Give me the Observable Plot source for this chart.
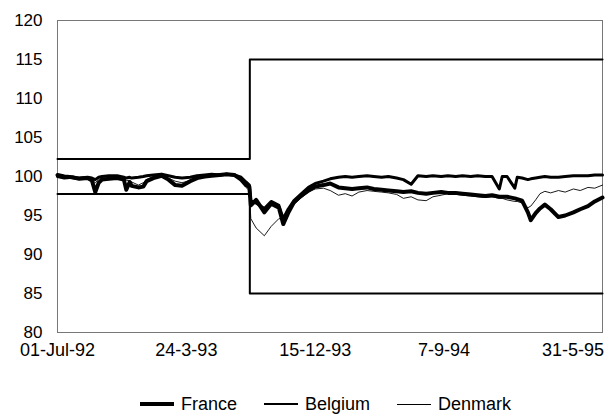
<!DOCTYPE html>
<html><head><meta charset="utf-8">
<script src="https://cdn.jsdelivr.net/npm/d3@7"></script>
<script src="https://cdn.jsdelivr.net/npm/@observablehq/plot@0.6"></script>
<style>
body{margin:0;background:#fff;font-family:Arial,"Liberation Sans",sans-serif;}
#wrap{position:relative;width:608px;height:417px;}
#legend{position:absolute;left:140px;top:394px;display:flex;align-items:center;font-size:18px;line-height:20px;color:#000;white-space:nowrap;}
.item{display:flex;align-items:center;margin-right:27px;}
.sw{width:34px;background:#000;margin-right:7px;}
</style></head><body><div id="wrap"><div id="chart"></div><div id="legend"></div></div>
<script>
const dates=[
"1992-07-01","1992-07-15","1992-08-01","1992-08-15","1992-09-01","1992-09-10","1992-09-17","1992-09-24",
"1992-10-01","1992-10-15","1992-11-01","1992-11-15","1992-11-20","1992-11-27","1992-12-01","1992-12-15","1992-12-25",
"1993-01-01","1993-01-15","1993-02-01","1993-02-15","1993-03-01","1993-03-15","1993-04-01","1993-04-15","1993-05-01","1993-05-15","1993-06-01","1993-06-15","1993-07-01","1993-07-15","1993-07-25","1993-08-01",
"1993-08-04","1993-08-15","1993-09-01","1993-09-15","1993-10-01","1993-10-10","1993-10-20","1993-11-01","1993-11-15","1993-12-01","1993-12-15",
"1994-01-01","1994-01-15","1994-02-01","1994-02-15","1994-03-01","1994-03-15","1994-04-01","1994-04-15","1994-05-01","1994-05-15","1994-06-01","1994-06-15","1994-07-01","1994-07-15","1994-08-01","1994-08-15","1994-09-01","1994-09-15","1994-10-01","1994-10-15","1994-11-01","1994-11-15","1994-12-01","1994-12-15","1994-12-30",
"1995-01-05","1995-01-15","1995-01-31","1995-02-05","1995-02-15","1995-02-27","1995-03-05","1995-03-15","1995-03-24","1995-04-03","1995-04-15","1995-05-01","1995-05-15","1995-06-01","1995-06-15","1995-07-01","1995-07-15","1995-07-31"
];
const france=[
100.2,100.0,99.9,99.7,99.8,99.5,98.0,99.2,99.6,99.7,99.8,99.6,98.3,99.3,98.8,98.6,98.7,
99.4,99.8,100.1,99.6,98.9,98.8,99.4,99.8,100.0,100.1,100.2,100.3,100.2,99.6,98.9,98.7,
96.3,97.0,95.4,96.5,96.0,93.9,95.3,96.7,97.5,98.2,98.7,
98.9,99.1,98.6,98.5,98.4,98.5,98.6,98.4,98.3,98.2,98.1,98.0,98.1,97.9,97.8,97.9,98.0,97.9,97.9,97.8,97.7,97.6,97.5,97.6,97.4,
97.4,97.4,97.2,97.1,96.9,95.4,94.4,95.3,95.9,96.4,95.8,94.8,95.0,95.4,95.8,96.2,96.8,97.3
];
const belgium=[
100.0,99.8,99.9,99.8,99.9,99.8,99.6,99.9,100.0,100.1,100.1,99.9,99.8,99.9,99.8,99.9,100.0,
100.1,100.2,100.3,100.1,99.9,99.8,99.9,100.1,100.2,100.3,100.2,100.3,100.2,99.9,99.3,98.9,
96.9,96.6,95.9,96.8,96.3,94.6,95.8,96.9,97.7,98.6,99.1,
99.4,99.7,99.9,100.0,99.9,100.0,100.1,100.0,99.9,100.0,99.8,99.6,99.0,100.1,100.0,100.1,100.0,100.1,100.0,100.1,100.0,100.1,100.0,100.0,98.4,
100.0,100.0,98.5,99.9,99.8,99.6,99.7,99.8,99.9,100.0,99.9,99.9,100.0,100.1,100.1,100.1,100.2,100.2
];
const denmark=[
100.1,99.9,99.7,99.6,99.8,99.6,99.2,99.6,99.9,100.0,99.9,99.7,99.5,99.5,99.3,98.9,99.2,
99.6,100.0,100.4,99.8,99.4,99.2,99.5,99.9,100.1,100.2,100.1,100.4,100.3,99.5,98.6,98.2,
94.6,93.4,92.4,93.6,94.6,94.5,95.3,96.4,97.2,98.0,98.4,
98.5,98.2,97.6,97.8,97.5,98.0,98.2,98.1,98.0,97.9,97.7,97.2,97.4,97.0,96.9,97.4,97.6,97.8,97.7,97.6,97.5,97.4,97.3,97.4,97.2,
97.2,97.0,96.8,96.8,96.6,96.0,96.2,97.0,97.8,98.1,97.9,98.2,98.0,98.4,98.2,98.6,98.5,98.9
];
const bandDates=["1992-07-01","1993-08-02","1995-07-31"];
const upperBand=[102.25,115,115];
const lowerBand=[97.75,85,85];
const yTicks=[80,85,90,95,100,105,110,115,120];
const tickDates=["1992-07-01","1993-03-24","1993-12-15","1994-09-07","1995-05-31"];
const tickLabels=["01-Jul-92","24-3-93","15-12-93","7-9-94","31-5-95"];
const seriesNames=["France","Belgium","Denmark"];

const parse=d3.utcParse("%Y-%m-%d");
const seriesVals={France:france,Belgium:belgium,Denmark:denmark};
const widths={France:4,Belgium:3,Denmark:0.9};
const swatchH={France:4,Belgium:2.5,Denmark:1};
const rows=name=>dates.map((d,i)=>({date:parse(d),value:seriesVals[name][i]}));
const band=bandDates.map((d,i)=>({date:parse(d),upper:upperBand[i],lower:lowerBand[i]}));
const labelMap=new Map(tickDates.map((d,i)=>[+parse(d),tickLabels[i]]));

const chart=Plot.plot({
  width:608,height:364,marginLeft:57,marginRight:6,marginTop:20,marginBottom:32,
  style:{fontFamily:'Arial,"Liberation Sans",sans-serif',fontSize:"18px",color:"#000",background:"#fff"},
  x:{type:"utc",domain:[parse("1992-07-01"),parse("1995-07-31")]},
  y:{domain:[80,120]},
  marks:[
    Plot.frame({stroke:"#777",strokeWidth:1}),
    Plot.axisY({ticks:yTicks,tickSize:0,tickPadding:15,fontSize:17,label:null}),
    Plot.axisX({ticks:tickDates.map(parse),tickFormat:d=>labelMap.get(+d),tickSize:0,tickPadding:11,fontSize:18,label:null}),
    Plot.line(band,{x:"date",y:"upper",curve:"step-after",stroke:"#000",strokeWidth:2}),
    Plot.line(band,{x:"date",y:"lower",curve:"step-after",stroke:"#000",strokeWidth:2}),
    Plot.line(rows("Denmark"),{x:"date",y:"value",stroke:"#000",strokeWidth:widths.Denmark}),
    Plot.line(rows("France"),{x:"date",y:"value",stroke:"#000",strokeWidth:widths.France}),
    Plot.line(rows("Belgium"),{x:"date",y:"value",stroke:"#000",strokeWidth:widths.Belgium})
  ]
});
document.getElementById("chart").appendChild(chart);
const lg=document.getElementById("legend");
seriesNames.forEach(n=>{
  const it=document.createElement("div");it.className="item";
  const sw=document.createElement("div");sw.className="sw";sw.style.height=swatchH[n]+"px";
  const tx=document.createElement("span");tx.textContent=n;
  it.appendChild(sw);it.appendChild(tx);lg.appendChild(it);
});
</script></body></html>
